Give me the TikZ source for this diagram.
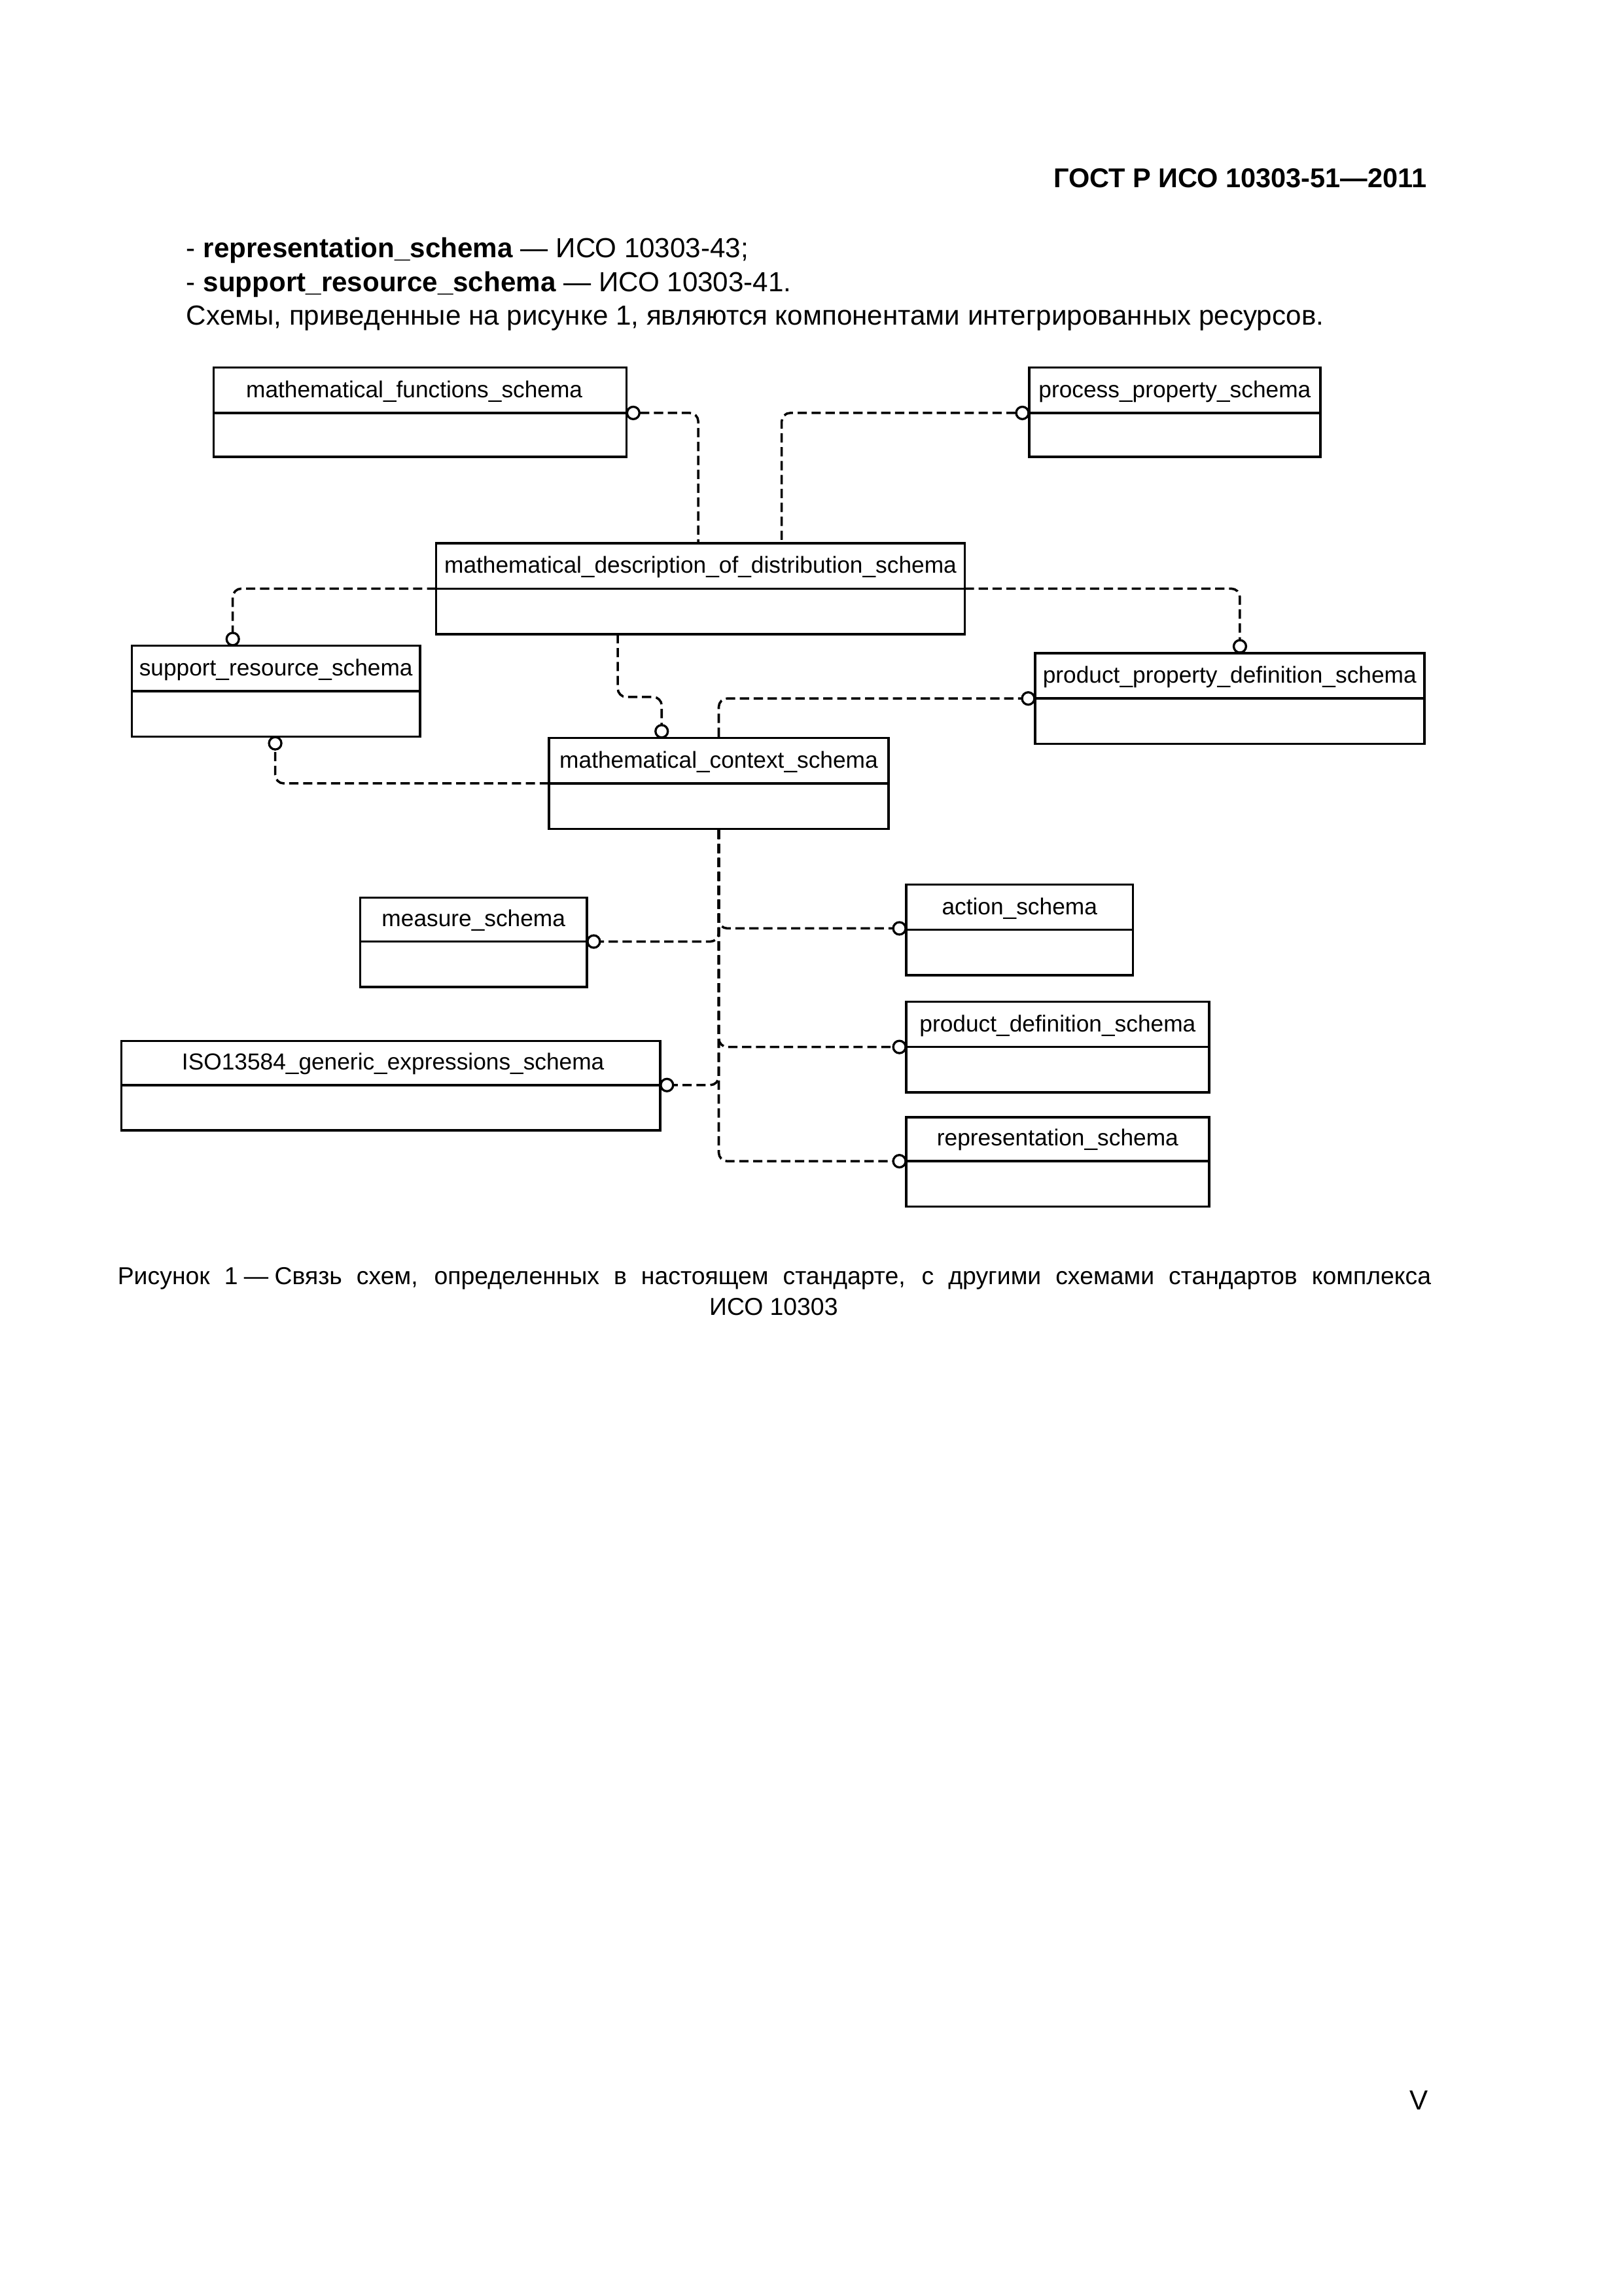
\documentclass[tikz,border=0pt]{standalone}
\usepackage{fontspec}
\setmainfont{Liberation Sans}
\usetikzlibrary{fit}
\tikzset{
  sbx/.style={draw, line width=0.85pt, inner sep=0pt, rectangle},
  sbxline/.style={line width=0.85pt},
  slbl/.style={font=\fontsize{8.5}{10}\selectfont, anchor=base, inner sep=0pt},
  conn/.style={draw, line width=0.85pt, dash pattern=on 1.2mm off 0.6mm, rounded corners=1.1mm},
  circ/.style={circle, inner sep=0pt, minimum size=1.6mm},
  ring/.style={line width=0.8pt, fill=white},
  bodytxt/.style={font=\fontsize{10.15}{12}\selectfont, inner sep=0pt},
}
\newcommand\schemabox[8]{%
  \node[sbx, fit={(#2,#3)(#4,#5)}] (#1) {};
  \draw[sbxline] (#2,#6) -- (#4,#6);
  \node[slbl] (#1-t) at ({(#2+#4)/2+#8}, #6-10.5) {#7};
}
\begin{document}
\begin{tikzpicture}[x=0.18936mm, y=-0.18936mm]
\useasboundingbox (0,0) rectangle (1109,1568);

% header and body text
\node[inner sep=0pt, anchor=base east, font=\bfseries\fontsize{10}{12}\selectfont] (hdr) at (975,128) {ГОСТ Р ИСО 10303-51—2011};
\node[bodytxt, anchor=base west] (l1) at (127,176) {- \textbf{representation\_schema} — ИСО 10303-43;};
\node[bodytxt, anchor=base west] (l2) at (127,199) {- \textbf{support\_resource\_schema} — ИСО 10303-41.};
\node[bodytxt, anchor=base west] (l3) at (127,222) {Схемы, приведенные на рисунке 1, являются компонентами интегрированных ресурсов.};

% boxes
\schemabox{mf}{146}{251}{428}{312}{282}{mathematical\_functions\_schema}{-4}
\schemabox{pp}{703}{251}{902}{312}{282}{process\_property\_schema}{0}
\schemabox{mdds}{298}{371}{659}{433}{402}{mathematical\_description\_of\_distribution\_schema}{0}
\schemabox{srs}{90}{441}{287}{503}{472}{support\_resource\_schema}{0}
\schemabox{ppd}{707}{446}{973}{508}{477}{product\_property\_definition\_schema}{0}
\schemabox{mcs}{375}{504}{607}{566}{535}{mathematical\_context\_schema}{0}
\schemabox{ms}{246}{613}{401}{674}{643}{measure\_schema}{0}
\schemabox{as}{619}{604}{774}{666}{635}{action\_schema}{0}
\schemabox{pd}{619}{684}{826}{746}{715}{product\_definition\_schema}{0}
\schemabox{iso}{83}{711}{451}{772}{741}{ISO13584\_generic\_expressions\_schema}{1.5}
\schemabox{rs}{619}{763}{826}{824}{793}{representation\_schema}{0}

% connection points on boxes
\coordinate (mddsA) at (477,371);
\coordinate (mddsB) at (534,371);
\coordinate (mddsL) at (298,402);
\coordinate (mddsR) at (659,402);
\coordinate (mddsD) at (422,433);
\coordinate (mcsL) at (375,535);

% circle positions (touching the boxes)
\node[circ, anchor=west]  (c1)  at (428,282) {};
\node[circ, anchor=east]  (c2)  at (703,282) {};
\node[circ, anchor=south] (c3)  at (159,441) {};
\node[circ, anchor=south] (c4)  at (847,446) {};
\node[circ, anchor=south] (c5)  at (452,504) {};
\node[circ, anchor=east]  (c6)  at (707,477) {};
\node[circ, anchor=north] (c7)  at (188,503) {};
\node[circ, anchor=west]  (c8)  at (401,643) {};
\node[circ, anchor=east]  (c9)  at (619,634) {};
\node[circ, anchor=east]  (c10) at (619,715) {};
\node[circ, anchor=west]  (c11) at (451,741) {};
\node[circ, anchor=east]  (c12) at (619,793) {};

% connectors
\draw[conn] (c1.east) -| (mddsA);
\draw[conn] (c2.west) -| (mddsB);
\draw[conn] (mddsL) -| (c3.north);
\draw[conn] (mddsR) -| (c4.north);
\draw[conn] (mddsD) -- ++(0,43) -| (c5.north);
\draw[conn] (mcs.north) |- (c6.west);
\draw[conn] (mcsL) -| (c7.south);
\draw[conn] (mcs.south) |- (c8.east);
\draw[conn] (mcs.south) |- (c9.west);
\draw[conn] (mcs.south) |- (c10.west);
\draw[conn] (mcs.south) |- (c11.east);
\draw[conn] (mcs.south) |- (c12.west);

% open circles on top
\foreach \c in {c1,c2,c3,c4,c5,c6,c7,c8,c9,c10,c11,c12}{
  \draw[ring] (\c.center) circle (0.8mm);
}

% caption
\node[anchor=base west, inner sep=0pt, font=\fontsize{9}{11}\selectfont] (cap1) at (80,877)
  {\makebox[169.9mm][s]{Рисунок 1\hspace{0.25em}—\hspace{0.25em}Связь схем, определенных в настоящем стандарте, с другими схемами стандартов комплекса}};
\node[anchor=base, inner sep=0pt, font=\fontsize{9}{11}\selectfont] (cap2) at (528.5,898) {ИСО 10303};

% page number
\node[bodytxt, anchor=base east] (pg) at (976,1441) {V};
\end{tikzpicture}
\end{document}
